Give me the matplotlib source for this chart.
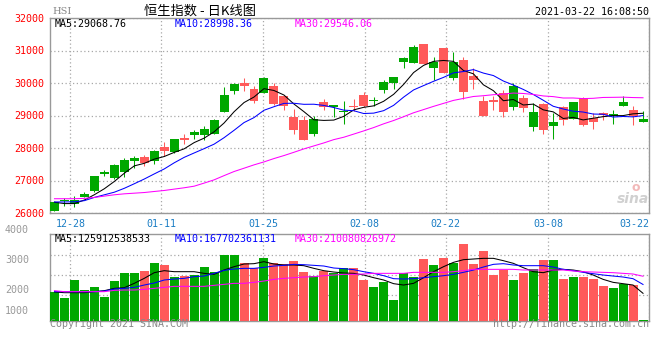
import numpy as np
import matplotlib
matplotlib.use('Agg')
import matplotlib.pyplot as plt

plt.rcParams['font.family'] = ['DejaVu Sans Mono']

# daily candles, 2020-12-22 .. 2021-03-22
opens = [26058, 26360, 26290, 26479, 26672, 27193, 27075, 27255, 27590, 27736,
         27613, 28022, 27869, 28319, 28390, 28390, 28442, 29095, 29761, 29997,
         29822, 29690, 29914, 29586, 28942, 28850, 28442, 29402, 29270, 29095,
         29291, 29638, 29433, 29791, 29985, 30650, 30629, 31202, 30475, 31080,
         30169, 30712, 30200, 29433, 29465, 29690, 29261, 29536, 28656, 29362,
         28666, 29261, 28893, 29546, 28923, 29066, 28972, 29300, 29178, 28788]
highs = [26334, 26457, 26520, 26632, 27153, 27337, 27520, 27706, 27767, 27788,
         27930, 28196, 28290, 28420, 28543, 28687, 28900, 29862, 29990, 30169,
         29893, 30199, 29997, 29638, 29209, 28994, 28994, 29506, 29331, 29433,
         29506, 29730, 29555, 30098, 30190, 30813, 31181, 31202, 30813, 31080,
         30957, 30794, 30457, 29586, 29586, 29791, 29985, 29638, 29383, 29383,
         29077, 29279, 29423, 29567, 29077, 29107, 29178, 29607, 29279, 29147]
lows = [26058, 26211, 26180, 26479, 26653, 27153, 27060, 27123, 27390, 27440,
        27520, 27767, 27850, 28114, 28267, 28258, 28420, 29095, 29669, 29739,
        29384, 29690, 29322, 29178, 28442, 28236, 28359, 29178, 28942, 28748,
        29126, 29261, 29279, 29690, 29822, 30475, 30629, 30589, 30077, 30322,
        30098, 29506, 29822, 28972, 29178, 28942, 29156, 29095, 28512, 28420,
        28288, 28718, 28893, 28666, 28595, 28850, 28748, 29300, 28718, 28788]
closes = [26334, 26380, 26386, 26571, 27153, 27255, 27491, 27644, 27706, 27543,
          27899, 27899, 28279, 28248, 28503, 28585, 28871, 29638, 29975, 29923,
          29433, 30159, 29362, 29279, 28543, 28258, 28902, 29261, 29331, 29130,
          29250, 29300, 29485, 30037, 30190, 30773, 31120, 30589, 30660, 30322,
          30641, 29709, 30077, 28972, 29423, 29095, 29893, 29230, 29107, 28543,
          28788, 28871, 29402, 28718, 28800, 29027, 29060, 29405, 28990, 28885]

ma5 = [26330, 26290, 26290, 26400, 26563, 26747, 26971, 27223, 27450, 27528,
       27657, 27738, 27865, 27974, 28166, 28303, 28497, 28769, 29114, 29398,
       29568, 29826, 29770, 29631, 29355, 29120, 28869, 28849, 28859, 28974,
       29173, 29252, 29297, 29438, 29652, 29957, 30321, 30542, 30666, 30693,
       30666, 30384, 30282, 29944, 29764, 29455, 29492, 29323, 29350, 29174,
       29112, 28908, 28942, 28864, 28916, 28964, 28996, 28997, 29051, 29069]
ma10 = [26340, 26340, 26345, 26380, 26480, 26560, 26640, 26760, 26900, 27045,
        27202, 27355, 27544, 27712, 27847, 27980, 28118, 28317, 28544, 28782,
        28935, 29161, 29270, 29373, 29377, 29344, 29347, 29310, 29245, 29165,
        29147, 29061, 29073, 29149, 29313, 29565, 29787, 29920, 30052, 30173,
        30312, 30353, 30412, 30305, 30229, 30061, 29938, 29802, 29647, 29469,
        29284, 29200, 29132, 29107, 29045, 29038, 28952, 28970, 28958, 28998]
ma30 = [26439, 26439, 26440, 26450, 26478, 26520, 26560, 26590, 26610, 26630,
        26662, 26693, 26735, 26776, 26825, 26920, 27020, 27150, 27276, 27378,
        27481, 27572, 27675, 27767, 27868, 27972, 28064, 28156, 28258, 28331,
        28428, 28526, 28629, 28744, 28846, 28963, 29084, 29182, 29281, 29373,
        29465, 29525, 29585, 29609, 29640, 29657, 29691, 29677, 29648, 29602,
        29581, 29538, 29539, 29520, 29529, 29555, 29559, 29564, 29552, 29546]

# turnover, 1e8 HKD
volumes = [1348, 1091, 1931, 1457, 1599, 1125, 1884, 2263, 2263, 2373,
           2738, 2643, 2074, 2135, 2168, 2548, 2297, 3117, 3117, 2738,
           2486, 2989, 2738, 2676, 2847, 2325, 2135, 2373, 2278, 2486,
           2486, 1931, 1599, 1836, 982, 2263, 2074, 2928, 2643, 2975,
           2738, 3639, 2690, 3307, 2168, 2406, 1931, 2263, 2467, 2880,
           2880, 1979, 2074, 2074, 1979, 1647, 1552, 1741, 1694, 30]
vol_ma5 = [1361, 1330, 1330, 1330, 1377, 1425, 1535, 1567, 1773, 2010,
           2279, 2374, 2326, 2326, 2326, 2247, 2200, 2405, 2563, 2690,
           2706, 2801, 2690, 2643, 2643, 2611, 2484, 2374, 2310, 2263,
           2247, 2168, 2041, 1931, 1757, 1693, 1773, 2041, 2326, 2563,
           2769, 2896, 2927, 2959, 2959, 2848, 2722, 2516, 2326, 2279,
           2405, 2437, 2405, 2326, 2168, 1962, 1820, 1757, 1693, 1300]
vol_ma10 = [1377, 1377, 1377, 1377, 1377, 1409, 1504, 1535, 1583, 1693,
            1788, 1931, 1978, 2010, 2089, 2120, 2247, 2389, 2453, 2484,
            2484, 2532, 2595, 2627, 2674, 2658, 2627, 2595, 2500, 2469,
            2421, 2326, 2247, 2136, 1994, 1978, 1994, 2041, 2089, 2136,
            2200, 2295, 2405, 2548, 2674, 2706, 2643, 2611, 2611, 2611,
            2548, 2437, 2374, 2295, 2231, 2168, 2120, 2073, 1994, 1720]
vol_ma30 = [1425, 1377, 1377, 1377, 1377, 1377, 1440, 1456, 1456, 1488,
            1535, 1583, 1630, 1630, 1630, 1630, 1678, 1725, 1773, 1773,
            1820, 1883, 1962, 2010, 2041, 2073, 2089, 2136, 2168, 2200,
            2200, 2216, 2247, 2247, 2247, 2247, 2295, 2295, 2295, 2295,
            2326, 2374, 2437, 2437, 2437, 2437, 2437, 2405, 2405, 2405,
            2405, 2405, 2358, 2326, 2310, 2295, 2279, 2247, 2216, 2110]

date_labels = ['12-28', '01-11', '01-25', '02-08', '02-22', '03-08', '03-22']
date_ticks = [1.6, 10.7, 20.9, 31.1, 39.2, 49.5, 59.6]
price_ticks = [26000, 27000, 28000, 29000, 30000, 31000, 32000]
vol_grid = [1200, 2150, 3100]
vol_labels = ['4000', '3000', '2000', '1000']

GREEN = '#00a800'
RED = '#ff5a5a'
GRID = '#a8a8a8'
FRAME = '#999999'
W, H = 660.0, 360.0
LW = 0.75


def fx(px):
    return px / W


def fy(py):
    return 1 - py / H


fig = plt.figure(figsize=(6.6, 3.6), dpi=100)
ax = fig.add_axes([fx(50), fy(213), 599 / W, 195 / H])
axv = fig.add_axes([fx(50), fy(320.7), 599 / W, 86.4 / H])

x = np.arange(len(closes))
o = np.array(opens)
c = np.array(closes)
colors = np.where(c >= o, GREEN, RED)

# candles
ax.vlines(x, lows, highs, colors=colors, lw=LW, zorder=2)
ax.bar(x, np.maximum(np.abs(c - o), 30), bottom=np.minimum(o, c), width=0.9,
       color=colors, lw=0, zorder=3, antialiased=False)
ax.plot(x, ma5, color='black', lw=LW, zorder=4)
ax.plot(x, ma10, color='#0000ff', lw=LW, zorder=4)
ax.plot(x, ma30, color='#ff00ff', lw=LW, zorder=4)

ax.set_xlim(-0.45, 59.55)
ax.set_ylim(26000, 32000)
ax.set_yticks(price_ticks)
ax.set_xticks(date_ticks)
ax.set_xticklabels(date_labels)
ax.get_xticklabels()[-1].set_ha('right')
ax.tick_params(length=0, labelsize=7.2)
ax.tick_params(axis='y', colors='#ff0000', pad=4)
ax.tick_params(axis='x', colors='#1a7dc4', pad=4)
ax.grid(True, color=GRID, linestyle=(0, (1, 2)), lw=0.9)
ax.set_axisbelow(True)

# volume
axv.bar(x, volumes, width=0.9, color=colors, lw=0, zorder=3, antialiased=False)
axv.plot(x, vol_ma5, color='black', lw=LW, zorder=4)
axv.plot(x, vol_ma10, color='#0000ff', lw=LW, zorder=4)
axv.plot(x, vol_ma30, color='#ff00ff', lw=LW, zorder=4)
axv.set_xlim(-0.45, 59.55)
axv.set_ylim(0, 4100)
axv.set_yticks(vol_grid)
axv.set_xticks(date_ticks)
axv.set_yticklabels([])
axv.set_xticklabels([])
axv.tick_params(length=0)
axv.grid(True, color=GRID, linestyle=(0, (1, 2)), lw=0.9)
axv.set_axisbelow(True)

for a in (ax, axv):
    for s in a.spines.values():
        s.set_color(FRAME)
        s.set_linewidth(1.0)

for lab, py in zip(vol_labels, [230, 260, 290, 311]):
    fig.text(fx(29), fy(py), lab, ha='right', va='center', color='#999999', fontsize=7.2)

# header
fig.text(fx(52), fy(12), 'HSI', color='#888888', fontsize=7, va='center', family='DejaVu Serif')
fig.text(fx(200), fy(11), '恒生指数 - 日K线图', ha='center', va='center', fontsize=9.5,
         family=['Noto Sans CJK SC', 'DejaVu Sans'])
fig.text(fx(649), fy(12), '2021-03-22 16:08:50', ha='right', va='center', fontsize=7.2)

fig.text(fx(55), fy(24), 'MA5:29068.76', color='black', va='center', fontsize=7.2)
fig.text(fx(175), fy(24), 'MA10:28998.36', color='#0000ff', va='center', fontsize=7.2)
fig.text(fx(295), fy(24), 'MA30:29546.06', color='#ff00ff', va='center', fontsize=7.2)

fig.text(fx(55), fy(239), 'MA5:125912538533', color='black', va='center', fontsize=7.2)
fig.text(fx(175), fy(239), 'MA10:167702361131', color='#0000ff', va='center', fontsize=7.2)
fig.text(fx(295), fy(239), 'MA30:210080826972', color='#ff00ff', va='center', fontsize=7.2)

fig.text(fx(50), fy(324), 'Copyright 2021 SINA.COM', color='#888888', va='center', fontsize=7.2)
fig.text(fx(649), fy(324), 'http://finance.sina.com.cn', color='#888888', ha='right',
         va='center', fontsize=7.2)

# sina watermark
fig.text(fx(633), fy(199), 'sina', color='#d0d0d0', ha='center', va='center', fontsize=10,
         style='italic', weight='bold', family='DejaVu Sans')
fig.text(fx(636), fy(187), 'o', color='#f2b8b8', ha='center', va='center', fontsize=9,
         weight='bold', family='DejaVu Sans')

fig.savefig('out.png', dpi=100)
